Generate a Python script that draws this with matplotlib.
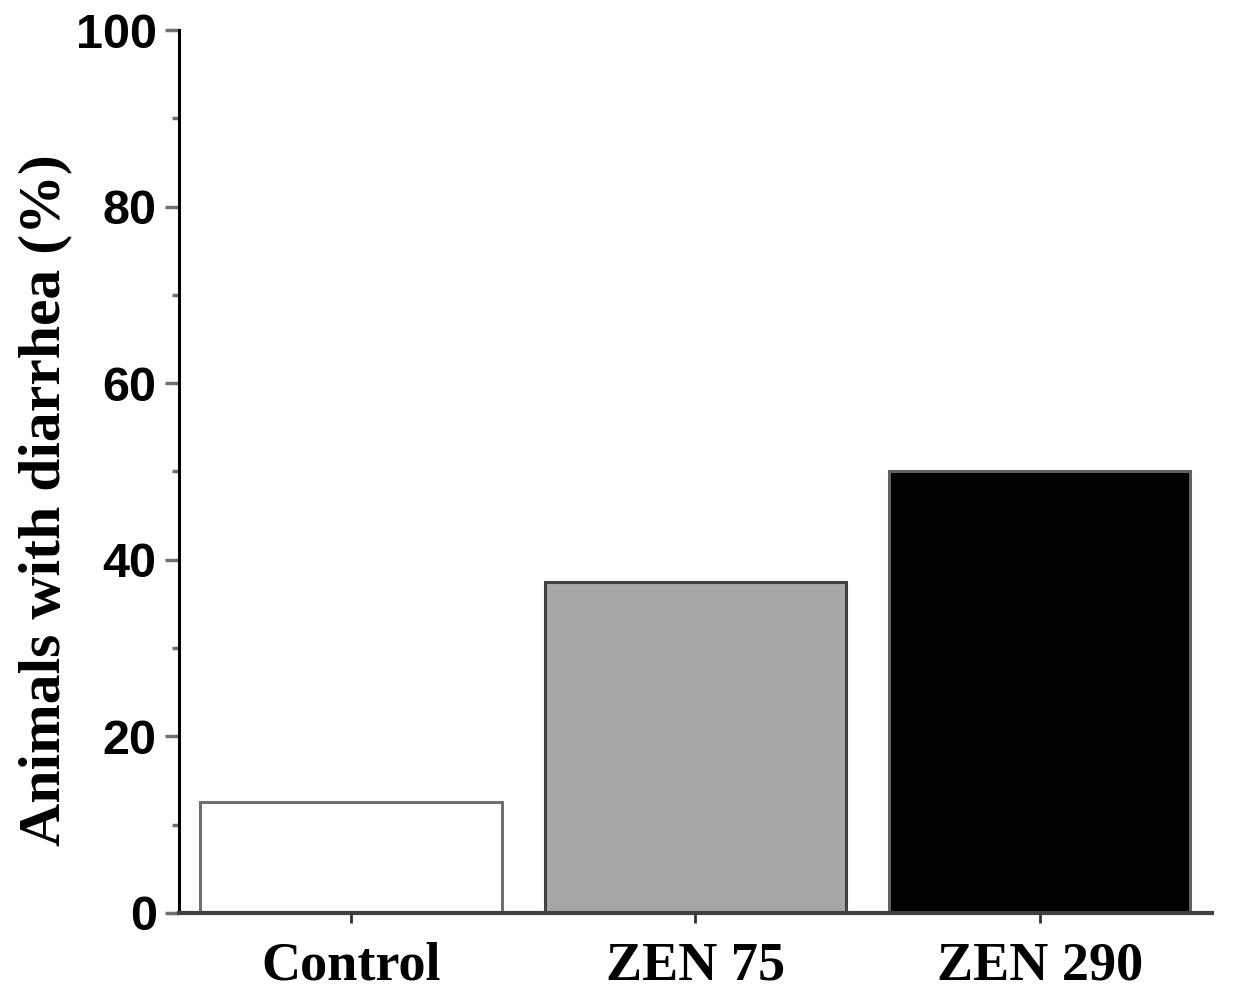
# Animals with diarrhea - bar chart

import numpy as np
import matplotlib.pyplot as plt
from matplotlib.ticker import MultipleLocator

groups = ['Control', 'ZEN 75', 'ZEN 290']            # Categories
pct = [12.5, 37.5, 50.0]                              # Animals with diarrhea (%)
fills = ['white', '#a6a6a6', 'black']
edges = ['#707070', '#404040', '#606060']

fig = plt.figure(figsize=(12.34, 10.02), dpi=100)
ax = fig.add_axes([0.145, 0.089, 0.837, 0.881])

x = np.arange(len(groups))
ax.bar(x, pct, width=0.875, color=fills, edgecolor=edges, linewidth=2.2, zorder=2)

ax.set_xlim(-0.5, 2.5)
ax.set_ylim(0, 100)
ax.yaxis.set_major_locator(MultipleLocator(20))
ax.yaxis.set_minor_locator(MultipleLocator(10))

for s in ['top', 'right']:
    ax.spines[s].set_visible(False)
ax.spines['left'].set_color('black')
ax.spines['left'].set_linewidth(2.2)
ax.spines['bottom'].set_color('#404040')
ax.spines['bottom'].set_linewidth(3)
ax.spines['bottom'].set_zorder(3)

ax.tick_params(axis='y', which='major', length=10, width=2.5, color='#707070',
               pad=6, labelsize=35)
ax.tick_params(axis='y', which='minor', length=5, width=2.5, color='#707070')
ax.tick_params(axis='x', length=7, width=2, color='#303030', pad=14)
for lab in ax.get_yticklabels():
    lab.set_fontfamily('Liberation Sans')
    lab.set_fontweight('bold')

ax.set_xticks(x)
ax.set_xticklabels(groups, fontfamily='Liberation Serif', fontweight='bold', fontsize=39)

ax.set_ylabel('Animals with diarrhea (%)', fontfamily='Liberation Serif',
              fontweight='bold', fontsize=43)
ax.yaxis.set_label_coords(-0.1035, 0.468)

plt.savefig('out.png', dpi=100)
